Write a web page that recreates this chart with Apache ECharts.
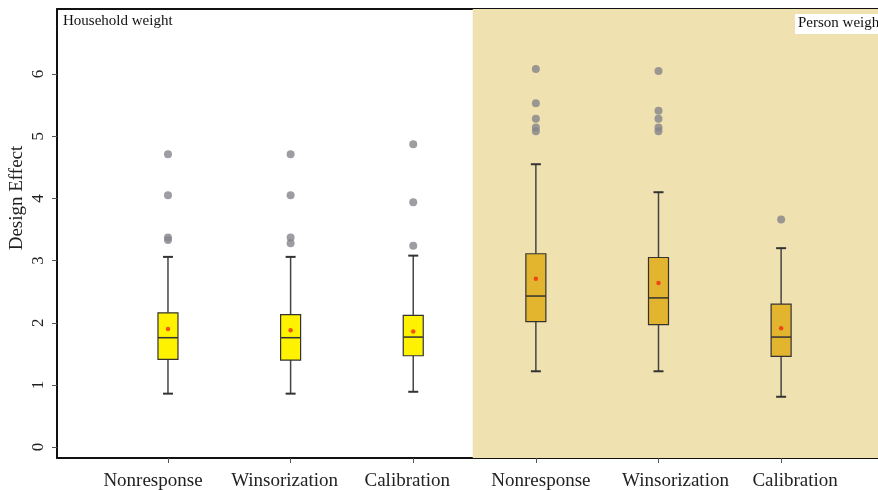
<!DOCTYPE html>
<html>
<head>
<meta charset="utf-8">
<script src="https://cdn.jsdelivr.net/npm/echarts@6/dist/echarts.min.js"></script>
<style>html,body{margin:0;padding:0;background:#fff;}#c{width:878px;height:490px;}</style>
</head>
<body>
<div id="c"></div>
<script>
const categories = ['Nonresponse', 'Winsorization', 'Calibration', 'Nonresponse', 'Winsorization', 'Calibration'];
const catPos = [1, 2, 3, 4, 5, 6];
const boxMin = [0.86, 0.86, 0.89, 1.22, 1.22, 0.81];
const boxQ1 = [1.41, 1.40, 1.47, 2.02, 1.97, 1.46];
const boxMedian = [1.76, 1.76, 1.77, 2.43, 2.40, 1.77];
const boxQ3 = [2.16, 2.13, 2.12, 3.11, 3.05, 2.30];
const boxMax = [3.06, 3.06, 3.08, 4.55, 4.10, 3.20];
const boxMean = [1.90, 1.88, 1.86, 2.71, 2.64, 1.91];
const outliers = [
  [4.71, 4.05, 3.37, 3.33],
  [4.71, 4.05, 3.37, 3.28],
  [4.87, 3.94, 3.24],
  [6.08, 5.53, 5.28, 5.14, 5.08],
  [6.05, 5.41, 5.28, 5.14, 5.08],
  [3.66]
];
const yTicks = [0, 1, 2, 3, 4, 5, 6];
const panelNames = ['Household weight', 'Person weight'];
const yTitle = 'Design Effect';

const FONT = '"Liberation Serif", "DejaVu Serif", serif';
const boxData = catPos.map((x, i) => [x, boxMin[i], boxQ1[i], boxMedian[i], boxQ3[i], boxMax[i], i < 3 ? 0 : 1]);
const outlierData = [];
outliers.forEach((arr, i) => arr.forEach(v => outlierData.push([catPos[i], v])));
const meanData = catPos.map((x, i) => [x, boxMean[i]]);

// per-label horizontal nudges (label centres are not exactly under the ticks in the reference)
const labelPad = [[0, 30, 0, 0], [0, 12, 0, 0], [0, 12, 0, 0], [0, 0, 0, 10], [0, 0, 0, 34], [0, 0, 0, 28]];
const rich = {};
labelPad.forEach((p, i) => { rich['l' + i] = {fontFamily: FONT, fontSize: 19, color: '#222', padding: p}; });

const chart = echarts.init(document.getElementById('c'), null, {renderer: 'canvas'});
const option = {
  animation: false,
  backgroundColor: '#ffffff',
  grid: {left: 57, right: 0, top: 9, bottom: 32, containLabel: false, outerBoundsMode: 'none'},
  xAxis: [{
    type: 'value', min: 0.095, max: 6.79,
    splitLine: {show: false},
    axisLine: {show: true, onZero: false, lineStyle: {color: '#111', width: 2}},
    axisTick: {show: true, length: 5, customValues: catPos, lineStyle: {color: '#555', width: 1}},
    axisLabel: {show: true, customValues: catPos, margin: 14, fontFamily: FONT, fontSize: 19, color: '#222',
      rich: rich,
      formatter: v => { const i = Math.round(v) - 1; return categories[i] ? '{l' + i + '|' + categories[i] + '}' : ''; }}
  }, {
    type: 'value', position: 'top', min: 0.095, max: 6.79,
    splitLine: {show: false}, axisTick: {show: false}, axisLabel: {show: false},
    axisLine: {show: true, onZero: false, lineStyle: {color: '#111', width: 2}}
  }],
  yAxis: {
    type: 'value', min: -0.175, max: 7.047,
    splitLine: {show: false},
    axisLine: {show: true, onZero: false, lineStyle: {color: '#111', width: 2}},
    axisTick: {show: true, length: 5, customValues: yTicks, lineStyle: {color: '#555', width: 1}},
    axisLabel: {show: true, customValues: yTicks, rotate: 90, margin: 10, fontFamily: FONT, fontSize: 17, color: '#222'}
  },
  series: [{
    type: 'custom',
    xAxisIndex: 0,
    silent: true,
    data: boxData,
    markArea: {
      silent: true,
      itemStyle: {color: '#F0E2B0'},
      data: [[{xAxis: 3.485, yAxis: -0.175}, {xAxis: 6.79, yAxis: 7.047}]]
    },
    renderItem: function (params, api) {
      const x = api.value(0);
      const pMin = api.coord([x, api.value(1)]);
      const pQ1 = api.coord([x, api.value(2)]);
      const pMed = api.coord([x, api.value(3)]);
      const pQ3 = api.coord([x, api.value(4)]);
      const pMax = api.coord([x, api.value(5)]);
      const fill = api.value(6) === 0 ? '#FFF200' : '#E3B52F';
      const cx = pMed[0];
      const bw = 20, cw = 10;
      const lineStyle = {stroke: '#444', lineWidth: 1.5};
      return {
        type: 'group',
        children: [
          {type: 'line', shape: {x1: cx, y1: pMin[1], x2: cx, y2: pQ1[1]}, style: lineStyle},
          {type: 'line', shape: {x1: cx, y1: pQ3[1], x2: cx, y2: pMax[1]}, style: lineStyle},
          {type: 'line', shape: {x1: cx - cw / 2, y1: pMin[1], x2: cx + cw / 2, y2: pMin[1]}, style: {stroke: '#333', lineWidth: 2}},
          {type: 'line', shape: {x1: cx - cw / 2, y1: pMax[1], x2: cx + cw / 2, y2: pMax[1]}, style: {stroke: '#333', lineWidth: 2}},
          {type: 'rect', shape: {x: cx - bw / 2, y: pQ3[1], width: bw, height: pQ1[1] - pQ3[1]}, style: {fill: fill, stroke: '#333', lineWidth: 1.2}},
          {type: 'line', shape: {x1: cx - bw / 2, y1: pMed[1], x2: cx + bw / 2, y2: pMed[1]}, style: {stroke: '#333', lineWidth: 1.5}}
        ]
      };
    },
    z: 2
  }, {
    type: 'scatter',
    silent: true,
    data: outlierData,
    symbol: 'circle',
    symbolSize: 8,
    itemStyle: {color: '#85858b'},
    z: 3
  }, {
    type: 'scatter',
    silent: true,
    data: meanData,
    symbol: 'circle',
    symbolSize: 4.5,
    itemStyle: {color: '#F22A12'},
    z: 4
  }],
  graphic: [{
    type: 'text', left: 63, top: 14, z: 10,
    style: {text: panelNames[0], fontFamily: FONT, fontSize: 15, fill: '#111'}
  }, {
    type: 'text', left: 795, top: 14, z: 10,
    style: {text: panelNames[1], fontFamily: FONT, fontSize: 15, fill: '#111', backgroundColor: '#ffffff', padding: [2, 3, 3, 3]}
  }, {
    type: 'text', x: 17, y: 198, rotation: Math.PI / 2, z: 10,
    style: {text: yTitle, fontFamily: FONT, fontSize: 19, fill: '#222', align: 'center', verticalAlign: 'middle'}
  }]
};
chart.setOption(option);
</script>
</body>
</html>
